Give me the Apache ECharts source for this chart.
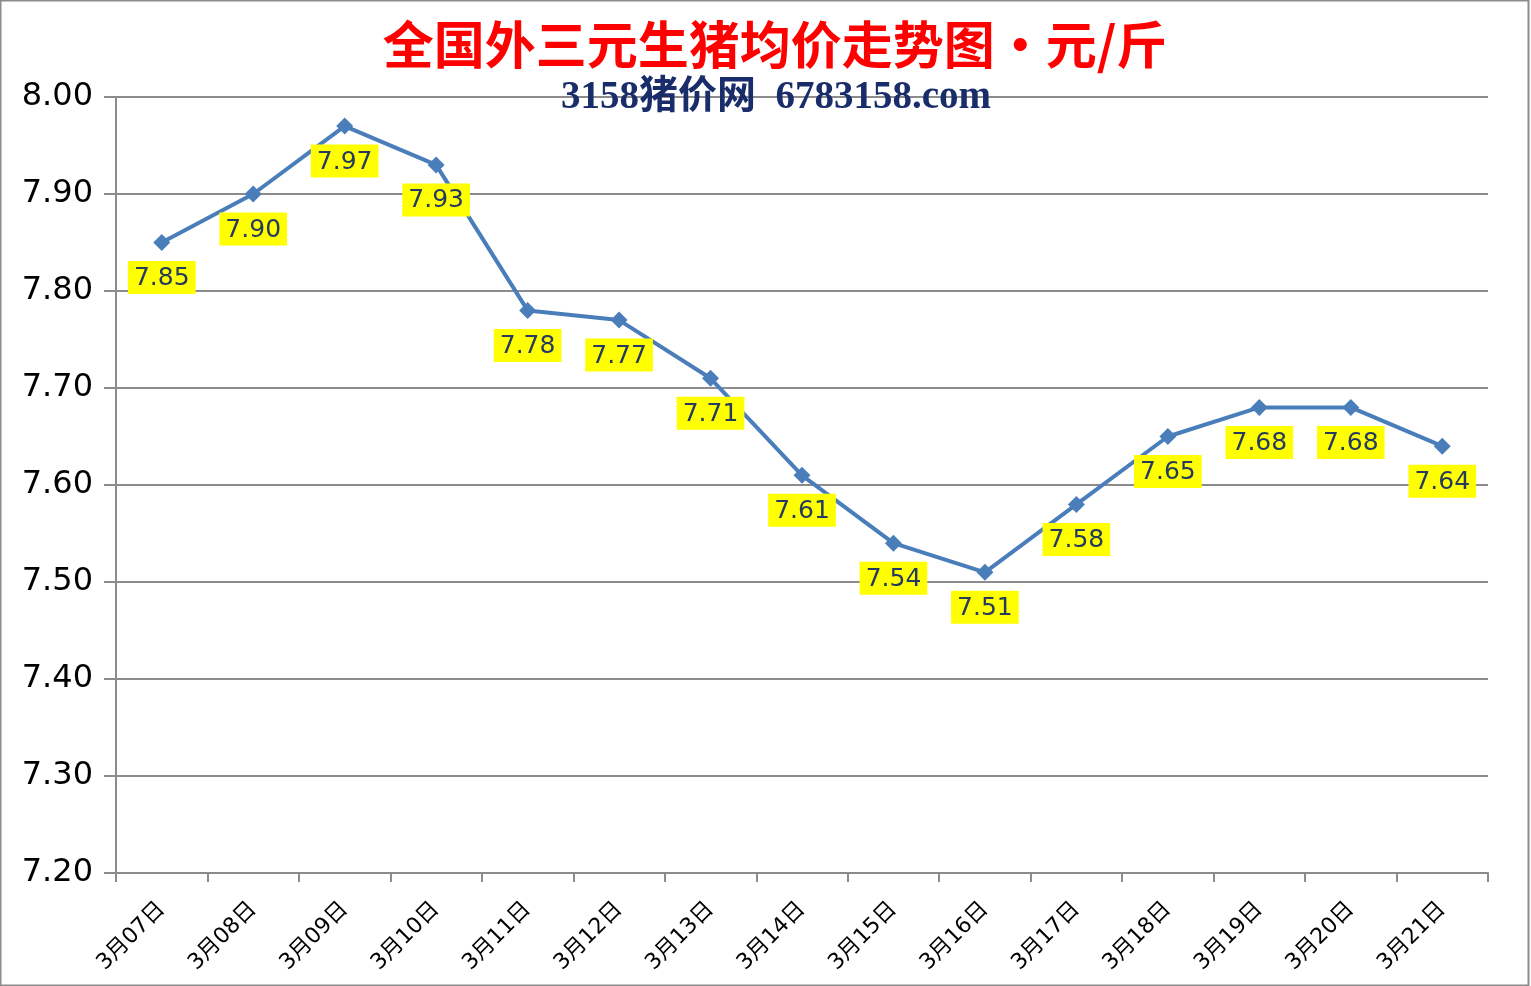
<!DOCTYPE html>
<html><head><meta charset="utf-8">
<script src="https://cdn.jsdelivr.net/npm/echarts@6/dist/echarts.min.js"></script>
<style>html,body{margin:0;padding:0;background:#fff}#c{width:1531px;height:986px}</style>
</head><body><div id="c"></div>
<script>
var categories = ['3月07日','3月08日','3月09日','3月10日','3月11日','3月12日','3月13日','3月14日','3月15日','3月16日','3月17日','3月18日','3月19日','3月20日','3月21日'];
var prices = [7.85,7.90,7.97,7.93,7.78,7.77,7.71,7.61,7.54,7.51,7.58,7.65,7.68,7.68,7.64];
var yTicks = [7.2, 8.0, 0.1];
var titleText = '全国外三元生猪均价走势图•元/斤';
var subText = '3158猪价网\u20026783158.com';

var chart = echarts.init(document.getElementById('c'), null, {renderer:'canvas'});
chart.setOption({
  backgroundColor:'#fff',
  animation:false,
  grid:{left:116,right:43,top:97,bottom:113,containLabel:false},
  graphic:[
    {type:'rect',shape:{x:0.5,y:0.5,width:1528,height:985},style:{fill:'none',stroke:'#8c8c8c',lineWidth:2},z:-1},
    {type:'text',x:775,y:45,style:{text:titleText,fill:'#ff0000',font:'bold 51px "Noto Sans CJK SC"',textAlign:'center',textVerticalAlign:'middle'},z:10},
    {type:'text',x:776,y:98,style:{text:subText,fill:'#1a2d6b',font:'bold 39px "Liberation Serif","Noto Sans CJK SC"',textAlign:'center',textVerticalAlign:'middle'},z:10}
  ],
  xAxis:{
    type:'category',data:categories,boundaryGap:true,
    axisLine:{show:true,lineStyle:{color:'#8c8c8c',width:2}},
    axisTick:{show:true,length:9,lineStyle:{color:'#8c8c8c',width:2}},
    axisLabel:{rotate:45,fontSize:22,color:'#000',margin:33,fontFamily:'DejaVu Sans, Noto Sans CJK SC'},
    splitLine:{show:false}
  },
  yAxis:{
    type:'value',min:yTicks[0],max:yTicks[1],interval:yTicks[2],
    axisLine:{show:true,lineStyle:{color:'#8c8c8c',width:2}},
    axisTick:{show:true,length:12,lineStyle:{color:'#8c8c8c',width:2}},
    axisLabel:{fontSize:32,color:'#000',margin:23,fontFamily:'DejaVu Sans',formatter:function(v){return v.toFixed(2);}},
    splitLine:{show:true,lineStyle:{color:'#8c8c8c',width:2}}
  },
  series:[{
    type:'line',data:prices,
    symbol:'diamond',symbolSize:17,
    lineStyle:{color:'#4a7ebb',width:4},
    itemStyle:{color:'#4a7ebb'},
    label:{show:true,position:'bottom',distance:10,fontSize:25,color:'#243a5e',fontFamily:'DejaVu Sans',
      backgroundColor:'#ffff00',padding:[5,6,3,6],formatter:function(p){return p.value.toFixed(2);}}
  }]
});
</script></body></html>
